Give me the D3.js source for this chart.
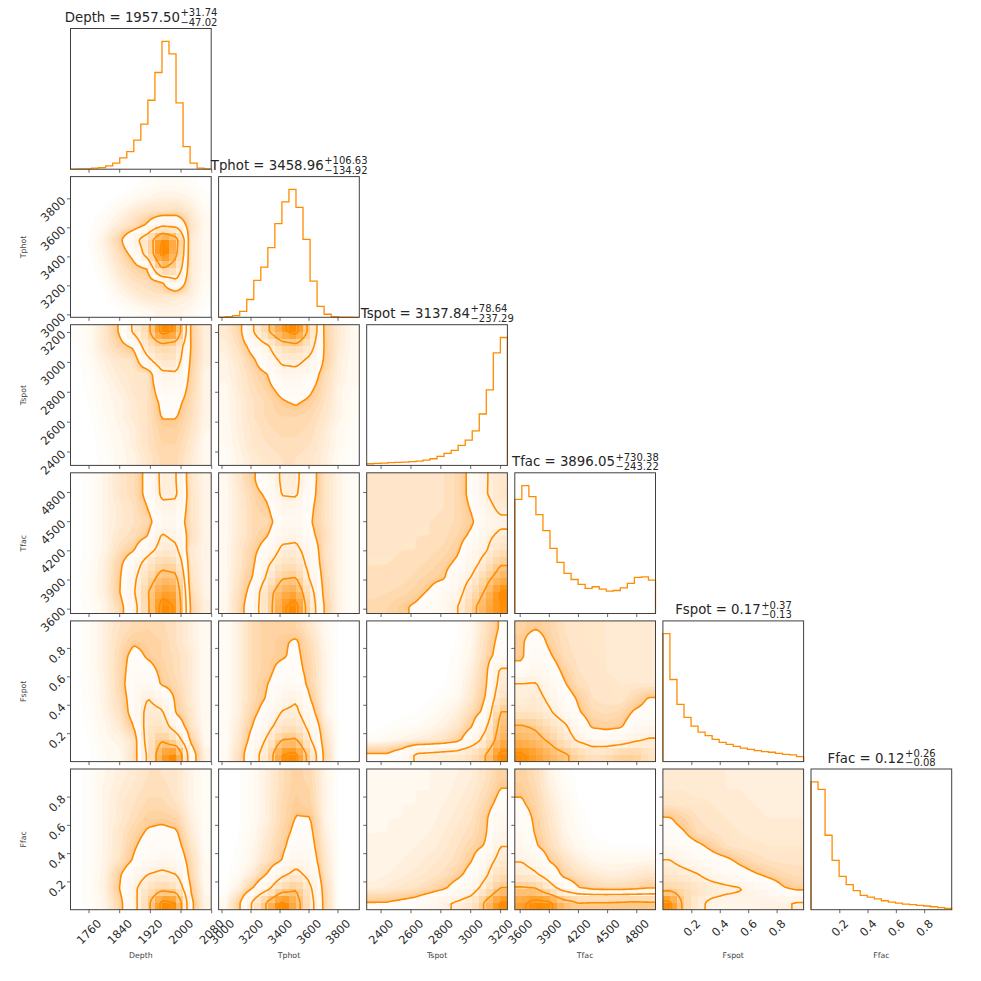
<!DOCTYPE html>
<html><head><meta charset="utf-8">
<script src="https://cdn.jsdelivr.net/npm/d3@7"></script>
<style>body{margin:0;background:#fff} text{font-family:"DejaVu Sans",sans-serif}</style>
</head><body>
<svg id="c" width="981" height="981" xmlns="http://www.w3.org/2000/svg"></svg>
<script>
// ---------------- data ----------------
const params = ["Depth","Tphot","Tspot","Tfac","Fspot","Ffac"];
const ranges = [[1713,2080],[2980,3950],[2307,3249],[3550,4998],[0,0.99],[0,0.995]];
const tickVals = [[1760,1840,1920,2000,2080],[3000,3200,3400,3600,3800],[2400,2600,2800,3000,3200],[3600,3900,4200,4500,4800],[0.2,0.4,0.6,0.8],[0.2,0.4,0.6,0.8]];
const medians = ["1957.50","3458.96","3137.84","3896.05","0.17","0.12"];
const errPlus = ["31.74","106.63","78.64","730.38","0.37","0.26"];
const errMinus = ["47.02","134.92","237.29","243.22","0.13","0.08"];

// 1D marginal histograms (20 bins, relative counts)
const hist_Depth = [1,2,3,8,13,26,47,88,137,228,352,539,756,1000,902,518,176,47,8,3];
const hist_Tphot = [2,5,13,47,139,288,393,545,733,903,1000,859,610,283,86,24,5,2,1,0];
const hist_Tspot = [13,16,18,21,24,26,29,34,42,52,71,94,118,157,197,270,402,591,879,1000];
const hist_Tfac  = [893,1000,914,773,648,509,399,313,266,227,196,209,191,175,180,201,235,282,287,261];
const hist_Fspot = [1000,642,447,345,278,231,203,174,151,135,119,106,96,86,78,73,65,57,52,39];
const hist_Ffac  = [1000,940,582,386,261,196,149,112,99,84,70,60,52,44,39,34,29,23,16,10];

// density levels of the 4 contours (0.5,1,1.5,2 sigma), in grid density units
const contourLevels = [13, 32, 61, 88];

// 2D densities: 10x10 grids, rows from top (high y) to bottom, columns left to right
const dens_Tphot_Depth = [
[0,0,0,0,0.3,0.8,1.2,1.2,0.8,0.2],
[0,0,0.2,0.6,1.5,2.5,3.5,3.5,2.5,0.8],
[0,0.2,0.8,2.5,5,7,7,8,5,1.5],
[0,0.4,2,5,8,15,30,28,7,2],
[0,0.8,4,11,25,45,90,70,5,2],
[0,0.5,3,8,16,40,95,65,5,2],
[0,0.3,2,6,10,13.5,62,50,5,2],
[0,0,1,4,7,8,12,28,5,1.5],
[0,0,0.4,2,4,6,6,5,4,1],
[0,0,0,0.4,1,2,3,3,2,0.4]];
const dens_Tspot_Depth = [
[0.5,2,6,14,35,55,95,85,12,4],
[0.5,2,6,10,15,45,55,50,13,4],
[0.3,1.5,4,6,7,28,45,42,12,4],
[0.3,1,3,5,6,6,28,30,11,3],
[0.2,0.8,2,4,6,7,20,22,10,3],
[0.2,0.6,2,3,5,7,15,16,9,3],
[0.1,0.5,1.5,3,5,7,13.5,13.5,8,3],
[0.1,0.4,1.2,2.5,4,7,11,11,7,2.5],
[0,0.3,1,2,4,7,10,10,6,2],
[0,0.3,0.8,2,3,6,9,9,5,2]];
const dens_Tfac_Depth = [
[0.2,1,3,6,8,16,36,33,6,3],
[0.2,1,3,6,8,16,35,34,7,3],
[0.2,1,3,5,7,13,28,28,7,3],
[0.2,1,3,5,7,9,22,22,7,3],
[0.2,1,3,6,8,13,34,28,8,3],
[0.2,1,3,8,12.5,25,40,36,5,3],
[0.3,1.2,4,11,22,42,55,52,6,3],
[0.3,1.5,4,12,28,50,70,66,7,3],
[0.3,1.5,4,12.5,30,60,84,80,9,3],
[0.3,1,3,9,24,58,95,86,11,4]];
const dens_Fspot_Depth = [
[0.3,1.5,4,7,9,10,9,7,4,1.5],
[0.3,1.5,4,8,12,11,10,7,4,1.5],
[0.3,1.5,4,9,16,12,10,8,5,1.5],
[0.3,1.5,4,9,18,16,11,8,5,1.5],
[0.3,1.2,3.5,9,20,20,12,9,5,1.5],
[0.3,1.2,3.5,8,18,32,24,11,5,1.5],
[0.2,1,3,7,17,38,34,12,6,1.5],
[0.2,0.8,2.5,5,13,40,42,22,7,1.5],
[0.1,0.6,2,3,6,40,60,45,12,2],
[0.1,0.5,1.5,2,7,35,80,90,20,3]];
const dens_Ffac_Depth = [
[0.3,1,2.5,4,5,7,7,6,3,1],
[0.3,1,3,4.5,6,8,8,6,3,1],
[0.3,1,3,5,7,9,9,7,3,1],
[0.3,1,3,5,8,11,11.5,10,4,1],
[0.3,1,3,6,10,14,15,14,5,1],
[0.3,1,3,6,12,17,18,17,7,1.2],
[0.3,1,3,7,14,20,24,22,9,1.5],
[0.3,1,3.5,12,22,32,36,32,10,1.5],
[0.3,1,4,13,28,45,55,50,13,2],
[0.3,1,3,10,25,55,93,89,16,3]];
const dens_Tspot_Tphot = [
[5,10,32,58,85,95,52,11,5,2],
[4,8,18,30,50,55,40,12,5,2],
[3,6,12,22,36,38,28,12,4,2],
[3,5,9,13,25,26,20,9,4,1.5],
[2,5,8,11,16,22,15,8,3,1.5],
[2,4,7,9,12,14,11,7,3,1],
[2,4,7,9,10,10,9,6,3,1],
[1.5,4,6,8,9,9,8,5,2,0.8],
[1.5,3.5,6,7,8,8,7,4.5,2,0.7],
[1,3,5,6,7,7,6,4,1.5,0.6]];
const dens_Tfac_Tphot = [
[2,6,12,22,34,36,18,7,3,1],
[2,5,10,15,33,34,17,7,3,1],
[2,5,9,12,25,25,15,7,3,1],
[2,5,9,9,20,22,14,7,3,1],
[2,5,9,13,26,28,16,8,3,1],
[2,6,11,18,36,37,22,7,3,1],
[2,6,12,30,45,47,24,8,3,1],
[2,7,14,36,60,62,30,9,3,1],
[2,8,18,52,75,80,40,10,3,1],
[2,9,22,50,85,95,45,12,3,1]];
const dens_Tfac_Tspot = [
[6,6,6,6,6,7,9,16,31,40],
[6,6,6,6,6,7,9,16,31,42],
[6,6,6,6,6.5,7,9,14,26,36],
[6,6,6,6.5,7,7.5,9,12,22,28],
[6,6,6.5,7,7,8,10,15,28,36],
[6.5,6.5,7,7,8,9,12,22,31,45],
[7,7,7.5,8,9,11,15,26,40,60],
[7,7.5,8,9,11,12.5,22,34,55,72],
[8,8.5,9,11,14,20,25,45,65,90],
[9,10,12,14,17,22,32,55,75,88]];
const dens_Fspot_Tphot = [
[1,4,9,11,11,10,6,2,0.5,0.2],
[1,4,9,11,12,14,8,2.5,0.5,0.2],
[1,4,9,11,12,15,9,3,0.5,0.2],
[1,4,9,11,16,16,10,3,0.5,0.2],
[1,4,9,13,18,20,10,3,0.5,0.2],
[1,4,9,14,24,30,13,3,0.5,0.2],
[1,4,11,18,33,36,18,3,0.5,0.2],
[1,5,14,26,42,45,26,6,0.5,0.2],
[1,6,18,36,62,64,34,8,0.5,0.2],
[1,8,24,45,89,92,50,10,0.5,0.2]];
const dens_Ffac_Tphot = [
[0,0.5,1.5,4,8,11,9,3,0.5,0.1],
[0,0.5,1.5,4,8,11.5,10,3,0.5,0.1],
[0,0.5,1.5,4,9,12,10.5,3,0.5,0.1],
[0,0.5,1.5,4,9,13.3,13.3,3,0.5,0.1],
[0,0.5,2,5,10,15,15,4,0.5,0.1],
[0,0.8,2.5,6,11,18,17,5,0.5,0.1],
[0,1,3,7,13,24,20,6,0.5,0.1],
[0.3,1.5,5,14,28,38,26,7,0.5,0.1],
[0.5,4,14,28,50,60,35,9,0.5,0.1],
[2,12,36,65,92,70,40,10,0.5,0.1]];
const dens_Fspot_Tspot = [
[0,0,0,0,0,0.1,0.5,2,7,14],
[0,0,0,0,0,0.1,0.6,2.5,8,16],
[0,0,0,0,0.1,0.3,0.8,3,9,18],
[0,0,0,0,0.1,0.3,1,4,11,34],
[0,0,0,0.1,0.2,0.5,1.5,5,12,38],
[0,0,0.1,0.2,0.4,1,2,6,14,45],
[0.1,0.2,0.3,0.5,1,2,4,9,16,62],
[0.3,0.5,0.8,1.2,2,3.5,6,13,30,68],
[1,2,3,4,5,7,11,22,40,75],
[14,14,20,34,36,38,40,48,62,92]];
const dens_Ffac_Tspot = [
[2,2,2,2,2.5,3,3.5,4.5,7,11],
[2,2,2,2.5,2.5,3,4,5,8,13.3],
[2,2,2.5,2.5,3,3.5,4.5,6,10,16],
[2,2.5,2.5,3,3,4,5,7,12,22],
[2.5,2.5,3,3,3.5,4.5,6,8,12.5,25],
[2.5,3,3,3.5,4,5,7,10,14,32],
[3,3,3.5,4,5,6,8,13,24,38],
[3,3.5,4,5,6,7.5,11,17,30,48],
[4,5,6,7,9,12,18,25,40,62],
[13.5,13.5,15,17,22,30,34,40,66,90]];
const dens_Fspot_Tfac = [
[11,12.5,10,7,6,5.5,5.5,5,5,5],
[12,18,11,7.5,6,5.5,5.5,5,5,5],
[12,20,14,8,6.5,6,5.5,5,5,5],
[15,24,18,11,7,6,5.5,5,5,5],
[33,33,22,14,8,6.5,6,5.5,5.5,5.5],
[34,38,28,18,12,7,6,5.5,9,13.5],
[40,42,34,22,14,9,8,9,14,16],
[63,58,46,36,20,12,11,12,18,22],
[72,68,58,42,30,22,20,22,30,34],
[90,82,72,64,55,45,48,56,58,45]];
const dens_Ffac_Tfac = [
[11,8,3,1,0.3,0.1,0,0,0,0],
[12,9,4,1.5,0.4,0.1,0,0,0,0],
[14,10,5,2,0.6,0.2,0.1,0,0,0],
[18,11,6,2.5,1,0.3,0.1,0.1,0.1,0.1],
[20,12,7,3,1.3,0.5,0.3,0.2,0.2,0.2],
[24,14,8,4,2,1,0.6,0.5,0.5,0.5],
[31,24,12,7,4,2.5,2,2,2,2.5],
[40,34,22,10,7,5,4,4,5,6],
[64,62,40,24,14,10,9,9,10,12.5],
[85,95,92,70,62,63,63,64,65,64]];
const dens_Ffac_Fspot = [
[5,5,5,4.5,4.5,4,4,3.5,3.5,3.5],
[5.5,5.5,5,5,4.5,4.5,4,4,3.5,3.5],
[6.5,6,6,5.5,5,5,4.5,4,4,4],
[13.5,10,7,6,5.5,5,5,4.5,4.5,4.5],
[16,13.5,8,7,6,5.5,5,5,5,5],
[22,18,15,11,7,6,6,5.5,5.5,5.5],
[32.5,25,20,17,15,11,8,7,6.5,6.5],
[42,38,32.5,24,20,17,14,11,9,8],
[55,50,44,40,36,33,26,20,14,11],
[92,55,36,28,26,27,28,31,30,33]];

const histograms = [hist_Depth, hist_Tphot, hist_Tspot, hist_Tfac, hist_Fspot, hist_Ffac];
const densityGrids = {
  "1,0": dens_Tphot_Depth,
  "2,0": dens_Tspot_Depth, "2,1": dens_Tspot_Tphot,
  "3,0": dens_Tfac_Depth, "3,1": dens_Tfac_Tphot, "3,2": dens_Tfac_Tspot,
  "4,0": dens_Fspot_Depth, "4,1": dens_Fspot_Tphot, "4,2": dens_Fspot_Tspot, "4,3": dens_Fspot_Tfac,
  "5,0": dens_Ffac_Depth, "5,1": dens_Ffac_Tphot, "5,2": dens_Ffac_Tspot, "5,3": dens_Ffac_Tfac, "5,4": dens_Ffac_Fspot
};

// ---------------- drawing ----------------
const ORANGE = "#ff8c00", FRAME = "#404040", TXT = "#2b2b2b";
const L0 = 70.5, T0 = 28.5, S = 140.7, PITCH = 148.1;
const TICKFS = 11.5;
const svg = d3.select("#c");
const defs = svg.append("defs");

const xs = params.map((p,i) => d3.scaleLinear().domain(ranges[i]).range([L0+i*PITCH, L0+i*PITCH+S]));
const ys = params.map((p,j) => d3.scaleLinear().domain(ranges[j]).range([T0+j*PITCH+S, T0+j*PITCH]));
const fmts = [d3.format("d"),d3.format("d"),d3.format("d"),d3.format("d"),d3.format(".1f"),d3.format(".1f")];

const NF = 60, PAD = 2, NB = 20;
const hazeT = [0.5,1,1.5,2.5,3.5,4.5,5.5,7,8.5,10,11.5,12.5];
const hazeF = t => 0.5*Math.min(t,13)/13;
const hazeAlpha = hazeT.map((t,k) => {
  const prev = k ? hazeF(hazeT[k-1]) : 0;
  return 1 - (1-hazeF(t))/(1-prev);
});

function sampler(g){
  const nr = g.length, nc = g[0].length;
  return (u,v) => {
    const x = Math.max(0, Math.min(nc-1, u*nc-0.5)), y = Math.max(0, Math.min(nr-1, v*nr-0.5));
    const i0 = Math.min(Math.floor(x), nc-2), j0 = Math.min(Math.floor(y), nr-2);
    const tx = x-i0, ty = y-j0;
    return (1-ty)*((1-tx)*g[j0][i0] + tx*g[j0][i0+1]) + ty*((1-tx)*g[j0+1][i0] + tx*g[j0+1][i0+1]);
  };
}

const layer = svg.append("g");
const overlay = svg.append("g");

function draw2D(j, i, grid){
  const xsc = xs[i], ysc = ys[j];
  const [xa, xb] = xsc.range(), yBot = ysc.range()[0], yTop = ysc.range()[1];
  const cid = `clip${j}_${i}`;
  defs.append("clipPath").attr("id", cid).append("rect")
    .attr("x", xa).attr("y", yTop).attr("width", xb-xa).attr("height", yBot-yTop);
  const g = layer.append("g").attr("clip-path", `url(#${cid})`);
  const samp = sampler(grid);
  const n = NF + 2*PAD;
  const vals = new Array(n*n);
  for (let r = 0; r < n; r++) for (let c = 0; c < n; c++)
    vals[r*n+c] = samp((c-PAD+0.5)/NF, (r-PAD+0.5)/NF);
  const gx = d3.scaleLinear().domain([PAD, PAD+NF]).range([xa, xb]);
  const gy = d3.scaleLinear().domain([PAD, PAD+NF]).range([yTop, yBot]);
  const path = d3.geoPath(d3.geoTransform({point(x, y){ this.stream.point(gx(x), gy(y)); }}));

  // scattered samples (haze)
  const hz = d3.contours().size([n, n]).thresholds(hazeT)(vals);
  g.selectAll(null).data(hz).join("path").attr("d", path)
    .attr("fill", ORANGE).attr("fill-opacity", (d,k) => hazeAlpha[k]);

  // contours
  const cs = d3.contours().size([n, n]).thresholds(contourLevels)(vals);
  g.append("path").attr("d", path(cs[0])).attr("fill", "#fff");

  // density (pcolor, 20 bins)
  const [dx0, dx1] = xsc.domain(), [dy0, dy1] = ysc.domain();
  const ex = d3.range(NB+1).map(k => dx0 + k*(dx1-dx0)/NB);
  const ey = d3.range(NB+1).map(k => dy1 - k*(dy1-dy0)/NB);
  const cells = [];
  for (let r = 0; r < NB; r++) for (let c = 0; c < NB; c++)
    cells.push({r, c, v: samp((c+0.5)/NB, (r+0.5)/NB)});
  const vmax = d3.max(cells, d => d.v);
  const mix = d3.interpolateRgb("#ffffff", ORANGE);
  g.append("g").attr("shape-rendering", "crispEdges").selectAll("rect")
    .data(cells.filter(d => d.v/vmax > 0.02)).join("rect")
    .attr("x", d => xsc(ex[d.c])).attr("width", d => xsc(ex[d.c+1]) - xsc(ex[d.c]))
    .attr("y", d => ysc(ey[d.r])).attr("height", d => ysc(ey[d.r+1]) - ysc(ey[d.r]))
    .attr("fill", d => mix(d.v/vmax)).attr("fill-opacity", d => d.v/vmax);

  g.selectAll(null).data(cs).join("path").attr("d", path)
    .attr("fill", "none").attr("stroke", ORANGE).attr("stroke-width", 1.6).attr("stroke-linejoin", "round");
}

function drawHist(i){
  const h = histograms[i];
  const xsc = xs[i];
  const [yB, yT] = ys[i].range();
  const hy = d3.scaleLinear().domain([0, 1.1*d3.max(h)]).range([yB, yT]);
  const [d0, d1] = xsc.domain();
  const edges = d3.range(h.length+1).map(k => d0 + k*(d1-d0)/h.length);
  const pts = [[edges[0], 0]];
  h.forEach((v,k) => { pts.push([edges[k], v]); pts.push([edges[k+1], v]); });
  pts.push([edges[h.length], 0]);
  layer.append("path").datum(pts)
    .attr("d", d3.line().x(d => xsc(d[0])).y(d => hy(d[1])))
    .attr("fill", "none").attr("stroke", ORANGE).attr("stroke-width", 1.3);
}

function drawAxes(j, i){
  const xsc = xs[i], ysc = ys[j];
  const yBot = ysc.range()[0], xa = xsc.range()[0];
  const gb = overlay.append("g").attr("transform", `translate(0,${yBot})`)
    .call(d3.axisBottom(xsc).tickValues(tickVals[i]).tickSize(3.5)
      .tickFormat(j === 5 ? fmts[i] : () => ""));
  gb.select(".domain").remove();
  gb.selectAll(".tick line").attr("stroke", FRAME).attr("stroke-width", 0.8);
  gb.selectAll(".tick text").attr("fill", TXT).attr("font-size", TICKFS).attr("font-family", "DejaVu Sans")
    .each(function(){
      const t = d3.select(this);
      t.attr("y", 0).attr("x", 0).attr("dy", null).attr("text-anchor", "middle").attr("dominant-baseline", "central");
      const w = this.getComputedTextLength(), hh = TICKFS*1.17;
      t.attr("transform", `translate(0,${7 + (w+hh)/(2*Math.SQRT2)}) rotate(-45)`);
    });
  if (j > i) {
    const gl = overlay.append("g").attr("transform", `translate(${xa},0)`)
      .call(d3.axisLeft(ysc).tickValues(tickVals[j]).tickSize(3.5)
        .tickFormat(i === 0 ? fmts[j] : () => ""));
    gl.select(".domain").remove();
    gl.selectAll(".tick line").attr("stroke", FRAME).attr("stroke-width", 0.8);
    gl.selectAll(".tick text").attr("fill", TXT).attr("font-size", TICKFS).attr("font-family", "DejaVu Sans")
      .attr("x", 0).attr("y", 0).attr("dy", null).attr("text-anchor", "end").attr("dominant-baseline", "central")
      .attr("transform", "translate(-7,0) rotate(-45)");
  }
  const [xa2, xb2] = xsc.range(), [yb2, yt2] = ysc.range();
  overlay.append("rect").attr("x", xa2).attr("y", yt2).attr("width", xb2-xa2).attr("height", yb2-yt2)
    .attr("fill", "none").attr("stroke", FRAME).attr("stroke-width", 1);
}

function drawTitle(i){
  const cx = (xs[i].range()[0] + xs[i].range()[1]) / 2;
  const base = ys[i].range()[1] - 6.5;
  const g = overlay.append("g");
  const main = g.append("text").attr("y", base).attr("font-size", 13.3).attr("fill", "#262626")
    .text(`${params[i]} = ${medians[i]}`);
  const sup = g.append("text").attr("y", base-5.8).attr("font-size", 10).attr("fill", "#262626").text(`+${errPlus[i]}`);
  const sub = g.append("text").attr("y", base+3.6).attr("font-size", 10).attr("fill", "#262626").text(`\u2212${errMinus[i]}`);
  const wm = main.node().getComputedTextLength();
  const ws = Math.max(sup.node().getComputedTextLength(), sub.node().getComputedTextLength());
  const x0 = cx - (wm + ws)/2;
  main.attr("x", x0); sup.attr("x", x0 + wm + 0.5); sub.attr("x", x0 + wm + 0.5);
}

for (let j = 0; j < 6; j++) {
  for (let i = 0; i <= j; i++) {
    if (i === j) drawHist(i); else draw2D(j, i, densityGrids[`${j},${i}`]);
    drawAxes(j, i);
  }
  drawTitle(j);
}

params.forEach((p,i) => {
  const cx = (xs[i].range()[0] + xs[i].range()[1]) / 2;
  overlay.append("text").attr("x", cx).attr("y", 958).attr("text-anchor", "middle")
    .attr("font-size", 7.8).attr("fill", "#444").text(p);
  if (i > 0) {
    const cy = (ys[i].range()[0] + ys[i].range()[1]) / 2;
    overlay.append("text").attr("transform", `translate(25.5,${cy}) rotate(-90)`).attr("text-anchor", "middle")
      .attr("font-size", 7.8).attr("fill", "#444").text(p);
  }
});
</script>
</body></html>
